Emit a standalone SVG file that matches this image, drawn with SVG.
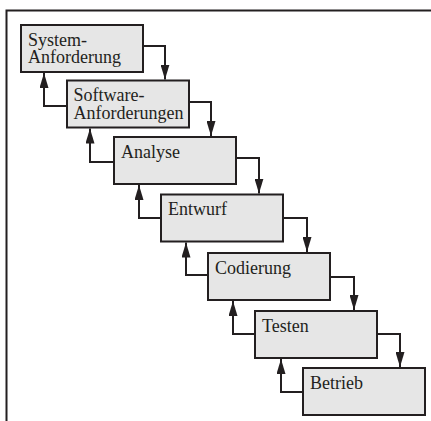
<svg xmlns="http://www.w3.org/2000/svg" width="431" height="421" viewBox="0 0 431 421">
<style>
.box{fill:#e6e6e6;stroke:#231f20;stroke-width:2}
text{font-family:'Liberation Serif','DejaVu Serif',serif;font-size:18px;fill:#231f20}
.c{fill:none;stroke:#231f20;stroke-width:2}
</style>
<defs>
<marker id="ah" viewBox="0 0 15 9" refX="15" refY="4.5" markerWidth="15" markerHeight="9" markerUnits="userSpaceOnUse" orient="auto">
<path d="M0,0 L15,4.5 L0,9 z" fill="#231f20"/>
</marker>
</defs>
<rect width="431" height="421" fill="#fff"/>
<path d="M6.5,421 V10.5 H431" fill="none" stroke="#231f20" stroke-width="2"/>
<g id="n1"><rect class="box" x="21" y="25" width="122" height="47"/><text x="28" y="45.5" font-family="Liberation Serif, serif">System-</text><text x="28" y="63" font-family="Liberation Serif, serif">Anforderung</text></g>
<g id="n2"><rect class="box" x="67" y="80.5" width="122" height="47"/><text x="73.5" y="101" font-family="Liberation Serif, serif">Software-</text><text x="73.5" y="118.5" font-family="Liberation Serif, serif">Anforderungen</text></g>
<g id="n3"><rect class="box" x="114" y="137" width="122" height="47"/><text x="121" y="157.5" font-family="Liberation Serif, serif">Analyse</text></g>
<g id="n4"><rect class="box" x="161" y="194.5" width="122" height="47"/><text x="168" y="215" font-family="Liberation Serif, serif">Entwurf</text></g>
<g id="n5"><rect class="box" x="208" y="253" width="122" height="47"/><text x="215" y="273.5" font-family="Liberation Serif, serif">Codierung</text></g>
<g id="n6"><rect class="box" x="255" y="311" width="122" height="47"/><text x="262" y="331.5" font-family="Liberation Serif, serif">Testen</text></g>
<g id="n7"><rect class="box" x="303" y="368" width="122" height="47"/><text x="310" y="388.5" font-family="Liberation Serif, serif">Betrieb</text></g>
<g id="connectors">
<path class="c" d="M143,46 H165 V79.5" marker-end="url(#ah)"/>
<path class="c" d="M189,102 H211 V136" marker-end="url(#ah)"/>
<path class="c" d="M236,158 H259 V193.5" marker-end="url(#ah)"/>
<path class="c" d="M283,218 H307 V252" marker-end="url(#ah)"/>
<path class="c" d="M330,277 H354 V310" marker-end="url(#ah)"/>
<path class="c" d="M377,334 H400 V367" marker-end="url(#ah)"/>
<path class="c" d="M67,106 H44 V73" marker-end="url(#ah)"/>
<path class="c" d="M114,162 H90 V128.5" marker-end="url(#ah)"/>
<path class="c" d="M161,218 H139 V185" marker-end="url(#ah)"/>
<path class="c" d="M208,275 H186 V242.5" marker-end="url(#ah)"/>
<path class="c" d="M255,334 H233 V301" marker-end="url(#ah)"/>
<path class="c" d="M303,392 H281 V359" marker-end="url(#ah)"/>
</g>
</svg>
